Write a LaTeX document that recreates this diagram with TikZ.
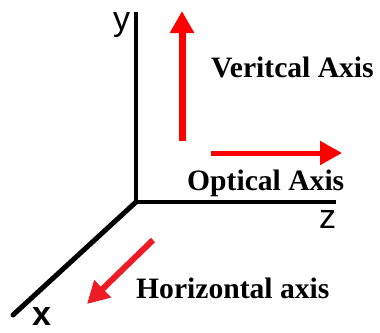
\documentclass[tikz,border=0pt]{standalone}
\usepackage{fontspec}
\setmainfont{Liberation Serif}
\newfontfamily\axfont{Liberation Sans}
\usetikzlibrary{arrows.meta}
\definecolor{arrred}{HTML}{FF0000}
\definecolor{diagred}{HTML}{ED1C24}
\tikzset{
  axisline/.style={line width=4pt, black},
  redarrow/.style={arrred, -{Triangle[length=22pt,width=23pt]}},
  lbl/.style={inner sep=0pt, anchor=base west, font=\fontsize{29.6}{30}\selectfont\bfseries},
  axlbl/.style={inner sep=0pt, anchor=base west, font=\fontsize{34}{34}\selectfont\axfont}
}
\begin{document}
\begin{tikzpicture}[x=1pt,y=-1pt]
\useasboundingbox (0,0) rectangle (380,332);
\coordinate (O) at (136,202);
\coordinate (Ytop) at (136,12);
\coordinate (Zend) at (336,202);
\coordinate (Xend) at (13,315);
\draw[axisline] (Ytop) -- (O) -- (Zend);
\draw[axisline, line width=5pt, line cap=round] (O) -- (Xend);
\node[axlbl] (ylab) at (113,30) {y};
\node[axlbl] (zlab) at (319,228) {z};
\node[axlbl, font=\fontsize{34}{34}\selectfont\axfont\bfseries] (xlab) at (32,325) {x};
\coordinate (va) at (182,141);
\coordinate (vb) at (182,11);
\coordinate (ha) at (211,153);
\coordinate (hb) at (342,153);
\coordinate (da) at (153,240);
\coordinate (db) at (87,304);
\draw[redarrow, line width=7pt] (va) -- (vb);
\draw[redarrow, line width=5pt] (ha) -- (hb);
\draw[redarrow, diagred, line width=6pt] (da) -- (db);
\node[lbl] (vert) at (211,77) {Veritcal Axis};
\node[lbl] (opt) at (187,190) {Optical Axis};
\node[lbl] (hor) at (136,298) {Horizontal axis};
\end{tikzpicture}
\end{document}
